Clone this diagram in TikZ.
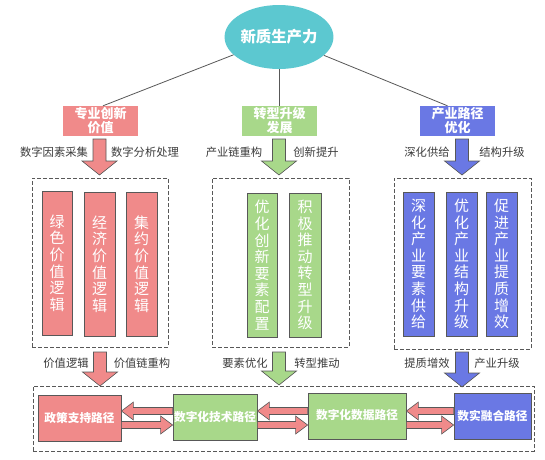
\documentclass[tikz,border=0pt]{standalone}
\usepackage{fontspec}
\setmainfont{Noto Sans CJK SC}
\usetikzlibrary{calc,shapes.geometric}
\definecolor{salmon}{HTML}{F08A8A}
\definecolor{leaf}{HTML}{A8D88A}
\definecolor{iris}{HTML}{6A78E4}
\definecolor{tealc}{HTML}{5CC8D0}
\definecolor{edgec}{HTML}{585858}
\definecolor{txtc}{HTML}{3C3C3C}
\newcommand\dblock[3]{\draw[blk,fill=#1] ($(#2)+(-6.5,0)$) -- ($(#2)+(6.5,0)$) -- ($(#3)+(6.5,-14)$) -- ($(#3)+(17.5,-14)$) -- (#3) -- ($(#3)+(-17.5,-14)$) -- ($(#3)+(-6.5,-14)$) -- cycle;}
\newcommand\rblock[2]{\draw[blk,fill=salmon] ($(#1)+(0,-3.5)$) -- ($(#2)+(-12,-3.5)$) -- ($(#2)+(-12,-9)$) -- (#2) -- ($(#2)+(-12,9)$) -- ($(#2)+(-12,3.5)$) -- ($(#1)+(0,3.5)$) -- cycle;}
\newcommand\lblock[2]{\draw[blk,fill=salmon] ($(#1)+(0,-3.5)$) -- ($(#2)+(12,-3.5)$) -- ($(#2)+(12,-9)$) -- (#2) -- ($(#2)+(12,9)$) -- ($(#2)+(12,3.5)$) -- ($(#1)+(0,3.5)$) -- cycle;}
\begin{document}
\begin{tikzpicture}[x=1pt,y=-1pt,
  headbox/.style={minimum width=75pt, minimum height=30pt, inner sep=0pt, text=white, font=\fontsize{13}{14}\selectfont\bfseries, align=center},
  bar/.style={draw=edgec, line width=0.8pt, minimum width=30pt, minimum height=144pt, inner sep=0pt, text=white, font=\fontsize{15}{16.6}\selectfont, align=center},
  group/.style={draw=edgec, dash pattern=on 4pt off 2pt, line width=0.7pt, inner sep=0pt},
  lab/.style={text=txtc, font=\fontsize{11.3}{12}\selectfont, inner sep=0pt},
  pathbox/.style={draw=edgec, line width=0.8pt, inner sep=0pt, minimum height=46pt, text=white, font=\fontsize{11.7}{12}\selectfont\bfseries},
  blk/.style={draw=edgec, line width=0.6pt},
  link/.style={draw=edgec, line width=0.8pt},
]
\useasboundingbox (0,0) rectangle (545,459);
\fill[white] (0,0) rectangle (545,459);

% root
\node[ellipse, fill=tealc, minimum width=92pt, minimum height=64pt, inner sep=0pt, text=white, font=\fontsize{15.4}{16}\selectfont\bfseries] (root) at (279,37) {新质生产力};

% head boxes
\node[headbox, fill=salmon] (b1) at (100.5,121) {专业创新\\价值};
\node[headbox, fill=leaf] (b2) at (279.5,121) {转型升级\\发展};
\node[headbox, fill=iris] (b3) at (457.5,121) {产业路径\\优化};

\draw[link] (root) -- ([xshift=2.5pt]b1.north);
\draw[link] (root) -- (root |- b2.north);
\draw[link] (root) -- ([xshift=-10pt]b3.north);

% top labels
\node[lab] (ta1) at (54,152) {数字因素采集};
\node[lab] (ta2) at (145,152) {数字分析处理};
\node[lab] (tb1) at (234,152) {产业链重构};
\node[lab] (tb2) at (316,152) {创新提升};
\node[lab] (tc1) at (427,152) {深化供给};
\node[lab] (tc2) at (502,152) {结构升级};

% top down arrows
\coordinate (d1t) at (99.5,139); \coordinate (d1b) at (99.5,175);
\coordinate (d2t) at (279,139);  \coordinate (d2b) at (279,175);
\coordinate (d3t) at (462,139);  \coordinate (d3b) at (462,175);
\dblock{salmon}{d1t}{d1b}
\dblock{leaf}{d2t}{d2b}
\dblock{iris}{d3t}{d3b}

% groups
\node[group, minimum width=136pt, minimum height=169pt] (g1) at (100,262.5) {};
\node[group, minimum width=137pt, minimum height=169pt] (g2) at (280.5,262.5) {};
\node[group, minimum width=137pt, minimum height=171pt] (g3) at (462.5,263.5) {};

% bars
\node[bar, fill=salmon] (l1) at (57,263) {绿\\色\\价\\值\\逻\\辑};
\node[bar, fill=salmon, minimum width=31pt] (l2) at (99.5,264) {经\\济\\价\\值\\逻\\辑};
\node[bar, fill=salmon, minimum width=31pt] (l3) at (141.5,264) {集\\约\\价\\值\\逻\\辑};
\node[bar, fill=leaf] (m1) at (262,265) {优\\化\\创\\新\\要\\素\\配\\置};
\node[bar, fill=leaf, minimum width=32pt] (m2) at (305,265) {积\\极\\推\\动\\转\\型\\升\\级};
\node[bar, fill=iris, minimum width=31pt] (r1) at (418.5,264) {深\\化\\产\\业\\要\\素\\供\\给};
\node[bar, fill=iris, minimum width=31pt] (r2) at (461.5,264) {优\\化\\产\\业\\结\\构\\升\\级};
\node[bar, fill=iris, minimum width=31pt] (r3) at (501.5,264) {促\\进\\产\\业\\提\\质\\增\\效};

% bottom labels
\node[lab] (ba1) at (66,363) {价值逻辑};
\node[lab] (ba2) at (142,363) {价值链重构};
\node[lab] (bb1) at (245,363) {要素优化};
\node[lab] (bb2) at (317,363) {转型推动};
\node[lab] (bc1) at (427,363) {提质增效};
\node[lab] (bc2) at (497,363) {产业升级};

% bottom down arrows
\coordinate (e1t) at (100,352); \coordinate (e1b) at (100,386);
\coordinate (e2t) at (279,352); \coordinate (e2b) at (279,385);
\coordinate (e3t) at (462,352); \coordinate (e3b) at (462,387);
\dblock{salmon}{e1t}{e1b}
\dblock{leaf}{e2t}{e2b}
\dblock{iris}{e3t}{e3b}

% bottom group
\node[group, minimum width=501pt, minimum height=65pt] (g4) at (283.5,418.5) {};

% path boxes
\node[pathbox, fill=salmon, minimum width=83pt] (p1) at (79.5,418) {政策支持路径};
\node[pathbox, fill=leaf, minimum width=84pt] (p2) at (215,417) {数字化技术路径};
\node[pathbox, fill=leaf, minimum width=98pt] (p3) at (357,416) {\raisebox{3pt}{数字化数据路径}};
\node[pathbox, fill=iris, minimum width=77pt] (p4) at (492.5,416) {数实融合路径};

% horizontal arrows
\coordinate (yA) at (0,411);
\coordinate (yB) at (0,425);
\path (p1.east |- yA) coordinate (a1l) (p2.west |- yA) coordinate (a1r)
      (p1.east |- yB) coordinate (b1l) (p2.west |- yB) coordinate (b1r)
      (p2.east |- yA) coordinate (a2l) (p3.west |- yA) coordinate (a2r)
      (p2.east |- yB) coordinate (b2l) (p3.west |- yB) coordinate (b2r)
      (p3.east |- yA) coordinate (a3l) (p4.west |- yA) coordinate (a3r)
      (p3.east |- yB) coordinate (b3l) (p4.west |- yB) coordinate (b3r);
\lblock{a1r}{a1l}
\rblock{b1l}{b1r}
\lblock{a2r}{a2l}
\rblock{b2l}{b2r}
\lblock{a3r}{a3l}
\rblock{b3l}{b3r}
\end{tikzpicture}
\end{document}
